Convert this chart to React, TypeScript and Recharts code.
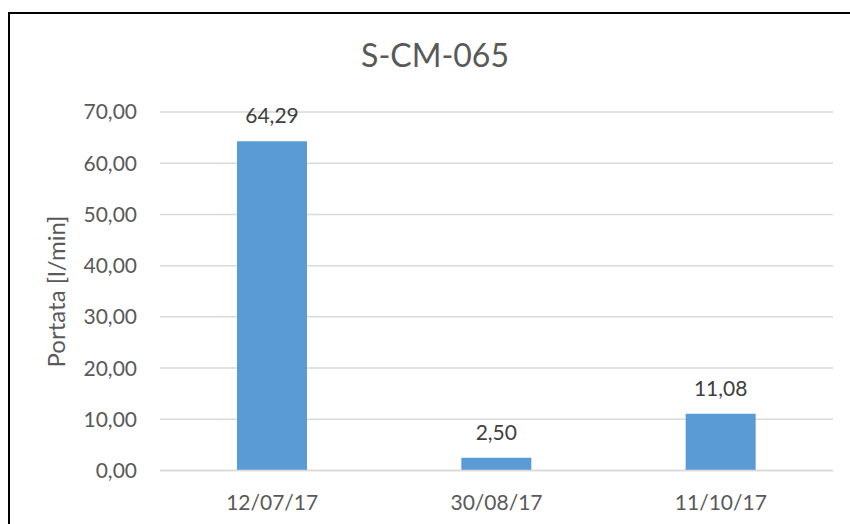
import { BarChart, Bar, XAxis, YAxis, CartesianGrid, LabelList, Label } from "recharts";

const CATEGORIES = ["12/07/17", "30/08/17", "11/10/17"];
const PORTATA = [64.29, 2.5, 11.08];
const Y_TICKS = [0, 10, 20, 30, 40, 50, 60, 70];
const BOUNDARY_TICKS = [0, 1, 2, 3];

const TITLE = "S-CM-065";
const Y_LABEL = "Portata [l/min]";

const FONT = "Lato, 'Open Sans', sans-serif";
const fmt = (v: number) => v.toFixed(2).replace(".", ",");

const data = CATEGORIES.map((d, i) => ({ date: d, portata: PORTATA[i] }));

export default function App() {
  return (
    <div
      style={{
        position: "absolute",
        left: 0,
        top: 0,
        width: 850,
        height: 524,
        overflow: "hidden",
        background: "#fff",
        fontFamily: FONT,
      }}
    >
      <div
        style={{
          position: "absolute",
          left: 8,
          top: 12,
          width: 900,
          height: 600,
          border: "2px solid #000",
        }}
      />
      <div style={{ position: "absolute", left: 0, top: 0 }}>
        <BarChart
          width={850}
          height={524}
          data={data}
          margin={{ top: 112, right: 17, bottom: 13.5, left: 0 }}
        >
          <text
            x={435}
            y={67}
            textAnchor="middle"
            fontSize={32}
            fill="#595959"
            fontFamily={FONT}
          >
            {TITLE}
          </text>
          <CartesianGrid vertical={false} stroke="#d9d9d9" strokeWidth={1.5} />
          <XAxis
            xAxisId="bounds"
            type="number"
            domain={[0, 3]}
            ticks={BOUNDARY_TICKS}
            allowDataOverflow
            height={0}
            axisLine={false}
            tickLine={{ stroke: "#d9d9d9", strokeWidth: 1.5 }}
            tickSize={7}
            tickFormatter={() => ""}
          />
          <XAxis
            dataKey="date"
            height={40}
            axisLine={{ stroke: "#d9d9d9", strokeWidth: 1.5 }}
            tickLine={false}
            tickSize={0}
            tickMargin={24.5}
            tick={{ fontSize: 21, fill: "#595959", fontFamily: FONT }}
          />
          <YAxis
            width={160}
            domain={[0, 70]}
            ticks={Y_TICKS}
            axisLine={false}
            tickLine={false}
            tickSize={0}
            tickMargin={23}
            tickFormatter={fmt}
            tick={{ fontSize: 21, fill: "#595959", fontFamily: FONT }}
          >
            <Label
              content={() => (
                <text
                  x={65}
                  y={291.5}
                  transform="rotate(-90 65 291.5)"
                  textAnchor="middle"
                  fontSize={24}
                  fill="#595959"
                  fontFamily={FONT}
                >
                  {Y_LABEL}
                </text>
              )}
            />
          </YAxis>
          <Bar dataKey="portata" fill="#5b9bd5" barSize={70} isAnimationActive={false}>
            <LabelList
              dataKey="portata"
              position="top"
              offset={18}
              formatter={(v: any) => fmt(Number(v))}
              style={{ fontSize: 21, fill: "#404040", fontFamily: FONT }}
            />
          </Bar>
        </BarChart>
      </div>
    </div>
  );
}
